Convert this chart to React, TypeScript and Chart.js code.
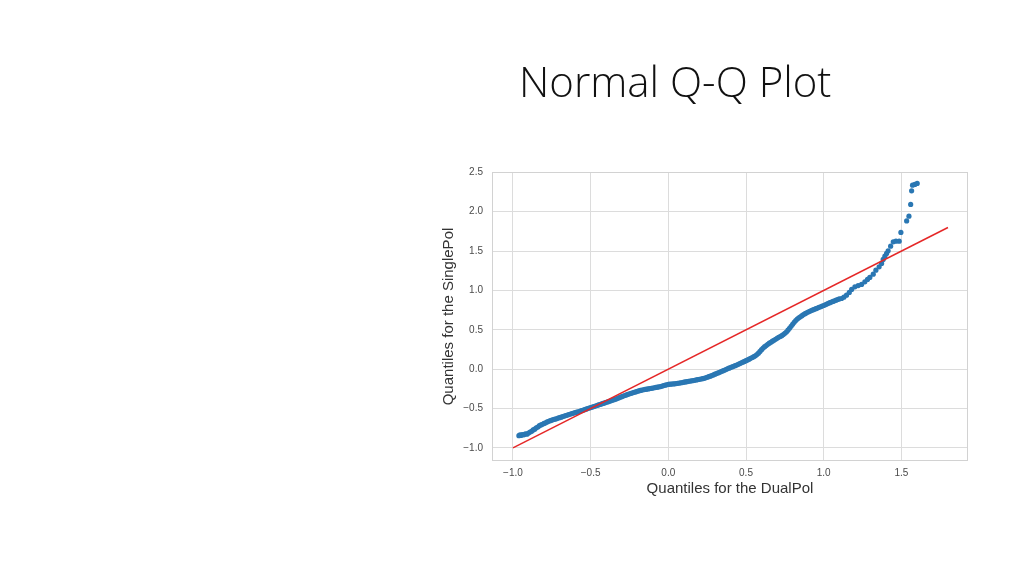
import { useEffect, useRef } from "react";
import { Chart, registerables } from "chart.js";

Chart.register(...registerables);

// Theoretical-side quantiles (DualPol) of the Q-Q sample points
const dualPolQuantiles = [
  -0.962, -0.955, -0.948, -0.94, -0.93, -0.92, -0.91, -0.9, -0.89, -0.88,
  -0.87, -0.86, -0.85, -0.84, -0.83, -0.82, -0.81, -0.8, -0.79, -0.78,
  -0.77, -0.76, -0.75, -0.74, -0.73, -0.72, -0.71, -0.7, -0.69, -0.68,
  -0.67, -0.66, -0.65, -0.64, -0.63, -0.62, -0.61, -0.6, -0.59, -0.58,
  -0.57, -0.56, -0.55, -0.54, -0.53, -0.52, -0.51, -0.5, -0.49, -0.48,
  -0.47, -0.46, -0.45, -0.44, -0.43, -0.42, -0.41, -0.4, -0.39, -0.38,
  -0.37, -0.36, -0.35, -0.34, -0.33, -0.32, -0.31, -0.3, -0.29, -0.28,
  -0.27, -0.26, -0.25, -0.24, -0.23, -0.22, -0.21, -0.2, -0.19, -0.18,
  -0.17, -0.16, -0.15, -0.14, -0.13, -0.12, -0.11, -0.1, -0.09, -0.08,
  -0.07, -0.06, -0.05, -0.04, -0.03, -0.02, -0.01, 0.0, 0.01, 0.02,
  0.03, 0.04, 0.05, 0.06, 0.07, 0.08, 0.09, 0.1, 0.11, 0.12,
  0.13, 0.14, 0.15, 0.16, 0.17, 0.18, 0.19, 0.2, 0.21, 0.22,
  0.23, 0.24, 0.25, 0.26, 0.27, 0.28, 0.29, 0.3, 0.31, 0.32,
  0.33, 0.34, 0.35, 0.36, 0.37, 0.38, 0.39, 0.4, 0.41, 0.42,
  0.43, 0.44, 0.45, 0.46, 0.47, 0.48, 0.49, 0.5, 0.51, 0.52,
  0.53, 0.54, 0.55, 0.56, 0.57, 0.58, 0.59, 0.6, 0.61, 0.62,
  0.63, 0.64, 0.65, 0.66, 0.67, 0.68, 0.69, 0.7, 0.71, 0.72,
  0.73, 0.74, 0.75, 0.76, 0.77, 0.78, 0.79, 0.8, 0.81, 0.82,
  0.83, 0.84, 0.85, 0.86, 0.87, 0.88, 0.89, 0.9, 0.91, 0.92,
  0.93, 0.94, 0.95, 0.96, 0.97, 0.98, 0.99, 1.0, 1.01, 1.02,
  1.03, 1.04, 1.05, 1.06, 1.07, 1.08, 1.09, 1.1,
  1.115, 1.13, 1.147, 1.165, 1.18, 1.201, 1.222, 1.244, 1.265, 1.282,
  1.297, 1.319, 1.336, 1.357, 1.373, 1.383, 1.394, 1.405, 1.415, 1.431,
  1.448, 1.465, 1.486, 1.497, 1.534, 1.549, 1.56, 1.566, 1.572, 1.587,
  1.602,
];

// Sample quantiles (SinglePol) matching the positions above
const singlePolQuantiles = [
  -0.845, -0.835, -0.842, -0.83, -0.835, -0.822, -0.826, -0.812, -0.8, -0.79,
  -0.772, -0.762, -0.745, -0.735, -0.718, -0.708, -0.7, -0.69, -0.682, -0.67,
  -0.662, -0.655, -0.648, -0.64, -0.636, -0.63, -0.622, -0.617, -0.61, -0.603,
  -0.596, -0.59, -0.583, -0.577, -0.57, -0.565, -0.558, -0.553, -0.547, -0.541,
  -0.535, -0.528, -0.522, -0.515, -0.508, -0.501, -0.494, -0.488, -0.482, -0.476,
  -0.469, -0.462, -0.455, -0.449, -0.442, -0.436, -0.429, -0.422, -0.416, -0.409,
  -0.402, -0.395, -0.388, -0.381, -0.374, -0.366, -0.358, -0.35, -0.342, -0.335,
  -0.327, -0.32, -0.313, -0.307, -0.301, -0.295, -0.289, -0.282, -0.276, -0.27,
  -0.266, -0.262, -0.258, -0.255, -0.251, -0.247, -0.243, -0.24, -0.236, -0.232,
  -0.229, -0.225, -0.221, -0.215, -0.209, -0.203, -0.198, -0.194, -0.191, -0.19,
  -0.188, -0.186, -0.183, -0.18, -0.177, -0.174, -0.17, -0.166, -0.162, -0.159,
  -0.155, -0.152, -0.148, -0.145, -0.141, -0.137, -0.133, -0.129, -0.125, -0.121,
  -0.116, -0.11, -0.103, -0.096, -0.089, -0.081, -0.073, -0.064, -0.056, -0.048,
  -0.04, -0.031, -0.022, -0.014, -0.005, 0.004, 0.012, 0.02, 0.028, 0.036,
  0.044, 0.053, 0.062, 0.071, 0.08, 0.089, 0.098, 0.108, 0.117, 0.127,
  0.138, 0.148, 0.158, 0.17, 0.185, 0.203, 0.225, 0.248, 0.268, 0.285,
  0.3, 0.315, 0.33, 0.342, 0.355, 0.367, 0.38, 0.392, 0.404, 0.415,
  0.426, 0.44, 0.455, 0.472, 0.495, 0.52, 0.545, 0.57, 0.595, 0.617,
  0.636, 0.652, 0.666, 0.68, 0.693, 0.705, 0.716, 0.726, 0.735, 0.744,
  0.752, 0.76, 0.768, 0.776, 0.785, 0.793, 0.801, 0.809, 0.818, 0.827,
  0.836, 0.845, 0.853, 0.861, 0.869, 0.877, 0.885, 0.892,
  0.898, 0.915, 0.94, 0.975, 1.013, 1.046, 1.062, 1.076, 1.109, 1.14,
  1.165, 1.207, 1.258, 1.3, 1.343, 1.394, 1.436, 1.47, 1.503, 1.563,
  1.618, 1.626, 1.626, 1.737, 1.884, 1.944, 2.093, 2.266, 2.338, 2.347,
  2.36,
];

// Reference (45-degree) line end points
const refLineX = [-1.0, 1.8];
const refLineY = [-1.0, 1.8];

const xTickValues = [-1.0, -0.5, 0.0, 0.5, 1.0, 1.5];
const yTickValues = [-1.0, -0.5, 0.0, 0.5, 1.0, 1.5, 2.0, 2.5];

const titleText = "Normal Q-Q Plot";
const xTitle = "Quantiles for the DualPol";
const yTitle = "Quantiles for the SinglePol";

const fmt = (v: number) => (v < 0 ? "\u2212" : "") + Math.abs(v).toFixed(1);

const framePlugin = {
  id: "frame",
  beforeDatasetsDraw(chart: any) {
    const { ctx, chartArea } = chart;
    const { left, top, right, bottom } = chartArea;
    ctx.save();
    ctx.strokeStyle = "#d2d2d2";
    ctx.lineWidth = 1;
    ctx.strokeRect(left + 0.5, top + 0.5, right - left - 1, bottom - top - 1);
    ctx.restore();
  },
};

export default function App() {
  const canvasRef = useRef<HTMLCanvasElement | null>(null);

  useEffect(() => {
    const canvas = canvasRef.current;
    if (!canvas) return;
    const points = dualPolQuantiles.map((x, i) => ({ x, y: singlePolQuantiles[i] }));
    const line = refLineX.map((x, i) => ({ x, y: refLineY[i] }));
    const font = "'Liberation Sans', Arial, Helvetica, sans-serif";
    const chart = new Chart(canvas, {
      type: "scatter",
      data: {
        datasets: [
          {
            label: "qqline",
            data: line,
            showLine: true,
            borderColor: "#e52727",
            borderWidth: 1.5,
            pointRadius: 0,
            order: 0,
          } as any,
          {
            label: "sample",
            data: points,
            backgroundColor: "#2a77b3",
            borderColor: "#2a77b3",
            borderWidth: 0,
            pointRadius: 2.6,
            order: 1,
          },
        ],
      },
      options: {
        responsive: false,
        animation: false,
        devicePixelRatio: 1,
        layout: { padding: { left: 430, right: 56, top: 172, bottom: 72 } },
        plugins: {
          legend: { display: false },
          tooltip: { enabled: false },
          title: { display: false },
        },
        scales: {
          x: {
            type: "linear",
            min: -1.135,
            max: 1.929,
            afterBuildTicks: (scale: any) => {
              scale.ticks = xTickValues.map((v) => ({ value: v }));
            },
            afterFit: (scale: any) => {
              scale.height = 43;
            },
            grid: { color: "#dcdcdc", lineWidth: 1, drawTicks: false },
            border: { display: false },
            ticks: {
              padding: 6,
              color: "#4a4a4a",
              font: { family: font, size: 10 },
              callback: (v: any) => fmt(Number(v)),
              maxRotation: 0,
            },
            title: {
              display: true,
              text: xTitle,
              color: "#333333",
              font: { family: font, size: 15 },
              padding: { top: 0, bottom: 6 },
            },
          },
          y: {
            type: "linear",
            min: -1.167,
            max: 2.505,
            afterBuildTicks: (scale: any) => {
              scale.ticks = yTickValues.map((v) => ({ value: v }));
            },
            afterFit: (scale: any) => {
              scale.width = 62;
            },
            grid: { color: "#dcdcdc", lineWidth: 1, drawTicks: false },
            border: { display: false },
            ticks: {
              padding: 9,
              color: "#4a4a4a",
              font: { family: font, size: 10 },
              callback: (v: any) => fmt(Number(v)),
            },
            title: {
              display: true,
              text: yTitle,
              color: "#333333",
              font: { family: font, size: 15 },
              padding: { top: 10, bottom: 0 },
            },
          },
        },
      },
      plugins: [framePlugin],
    });
    return () => chart.destroy();
  }, []);

  return (
    <div>
      <canvas
        ref={canvasRef}
        width={1024}
        height={576}
        style={{ position: "absolute", left: 0, top: 0, width: 1024, height: 576 }}
      />
      <div
        style={{
          position: "absolute",
          left: 519,
          top: 60,
          fontFamily: "'Open Sans', sans-serif",
          fontWeight: 300,
          fontSize: 42,
          lineHeight: "42px",
          color: "#111111",
          whiteSpace: "nowrap",
        }}
      >
        {titleText}
      </div>
    </div>
  );
}
